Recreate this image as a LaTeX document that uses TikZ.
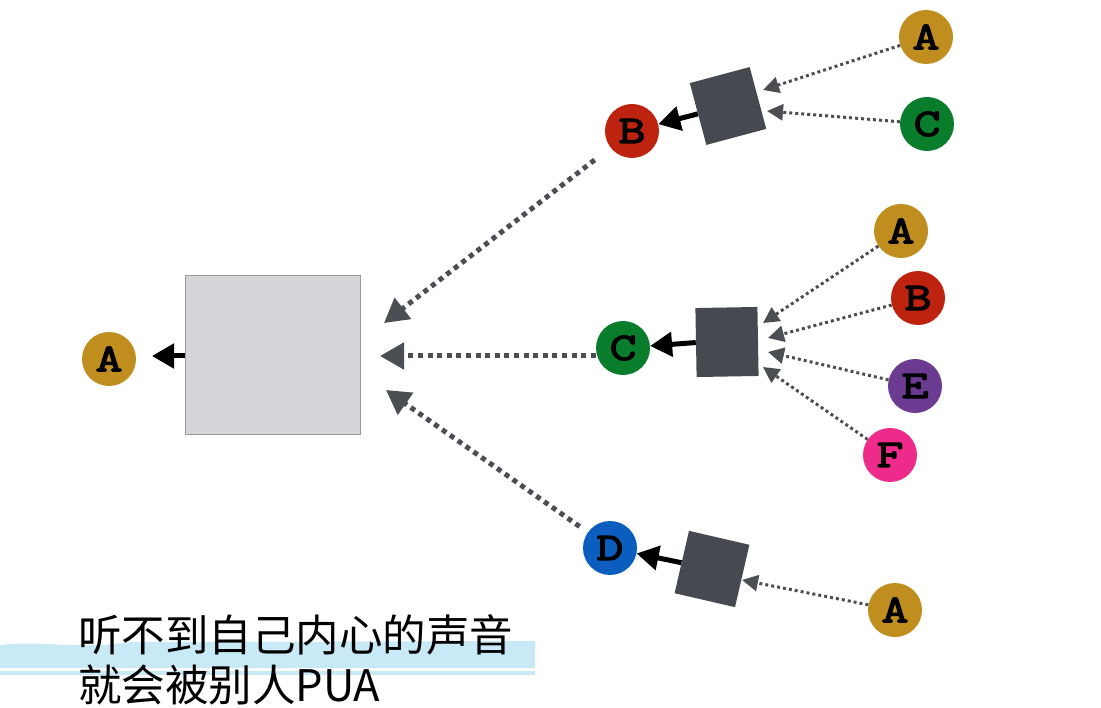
\documentclass[tikz,border=0pt]{standalone}
\usepackage{fontspec}
\newfontfamily\cjk{Noto Sans CJK SC}
\newfontfamily\ballfont{Latin Modern Mono}[FakeBold=3.5,FakeStretch=1.35]
\usetikzlibrary{arrows.meta}

\definecolor{gold}{HTML}{BF8E1F}
\definecolor{redc}{HTML}{BE2310}
\definecolor{greenc}{HTML}{0A7D2C}
\definecolor{purplec}{HTML}{6B3A91}
\definecolor{pinkc}{HTML}{EE2A8A}
\definecolor{bluec}{HTML}{0B5EBD}
\definecolor{darkbox}{HTML}{46494F}
\definecolor{linegray}{HTML}{4B4E53}
\definecolor{lightbox}{HTML}{D5D6DA}
\definecolor{bandblue}{HTML}{C8EAF6}

\tikzset{
  ball/.style={circle, minimum size=54pt, inner sep=0pt,
    font=\ballfont\fontsize{39}{39}\selectfont},
  minibox/.style={fill=darkbox, minimum width=62pt, minimum height=64pt, inner sep=0pt},
  bigdots/.style={linegray, line width=5pt, dash pattern=on 5pt off 4.6pt,
    -{Triangle[length=24pt,width=26pt]}},
  smalldots/.style={linegray, line width=3pt, dash pattern=on 3pt off 3pt,
    -{Triangle[length=16pt,width=16pt]}},
  push/.style={black, line width=5pt, -{Triangle[length=22pt,width=24pt]}}
}

\begin{document}
\begin{tikzpicture}[x=1pt,y=-1pt]
    \useasboundingbox (0,0) rectangle (1101,708);

    % caption band
    \fill[bandblue] (0,645) .. controls (40,640) and (80,650) .. (130,642)
        -- (535,641) -- (535,668) -- (0,668) -- cycle;
    \fill[bandblue] (0,671) rectangle (535,675);
    \node[anchor=west, inner sep=0pt, font=\cjk\fontsize{43.5}{44}\selectfont] (line1) at (78,635) {听不到自己内心的声音};
    \node[anchor=west, inner sep=0pt, font=\cjk\fontsize{43.5}{44}\selectfont] (line2) at (78,685) {就会被别人PUA};

    % main box and output
    \node[fill=lightbox, draw=gray!80, line width=1pt, minimum width=175pt, minimum height=159pt] (big) at (272.5,355.5) {};
    \node[ball, fill=gold] (out) at (109,359) {A};
    \draw[push] (big.west |- 0,356) -- (152,356);

    % top branch
    \node[ball, fill=redc] (b) at (632,131) {B};
    \node[minibox, rotate=15] (box1) at (728,106) {};
    \node[ball, fill=gold] (b1) at (926,37) {A};
    \node[ball, fill=greenc] (b2) at (927,124) {C};
    \coordinate (t1) at (763,90);
    \coordinate (t2) at (767,111);
    \draw[smalldots] (b1) -- (t1);
    \draw[smalldots] (b2) -- (t2);
    \draw[push] (box1) -- (b);

    % middle branch
    \node[ball, fill=greenc] (c) at (623,348) {C};
    \node[minibox, minimum height=69pt, rotate=1] (box2) at (727,342) {};
    \node[ball, fill=gold] (c1) at (901,231) {A};
    \node[ball, fill=redc] (c2) at (918,298) {B};
    \node[ball, fill=purplec] (c3) at (915,386) {E};
    \node[ball, fill=pinkc] (c4) at (890,455) {F};
    \coordinate (m1) at (763,323);
    \coordinate (m2) at (768,338);
    \coordinate (m3) at (768,352);
    \coordinate (m4) at (763,367);
    \draw[smalldots] (c1) -- (m1);
    \draw[smalldots] (c2) -- (m2);
    \draw[smalldots] (c3) -- (m3);
    \draw[smalldots] (c4) -- (m4);
    \draw[push] (box2.west) -- (c);

    % bottom branch
    \node[ball, fill=bluec] (d) at (610,548) {D};
    \node[minibox, rotate=-13] (box3) at (712,569) {};
    \node[ball, fill=gold] (d1) at (895,610) {A};
    \coordinate (u1) at (742,580);
    \draw[smalldots] (d1) -- (u1);
    \draw[push] (box3) -- (d);

    % into the main box
    \coordinate (in1) at (384,323);
    \coordinate (in2) at (380,356);
    \coordinate (in3) at (386,390);
    \draw[bigdots, shorten <=20pt] (b) -- (in1);
    \draw[bigdots] (c.west |- in2) -- (in2);
    \draw[bigdots, shorten <=10pt] (d) -- (in3);
\end{tikzpicture}
\end{document}
